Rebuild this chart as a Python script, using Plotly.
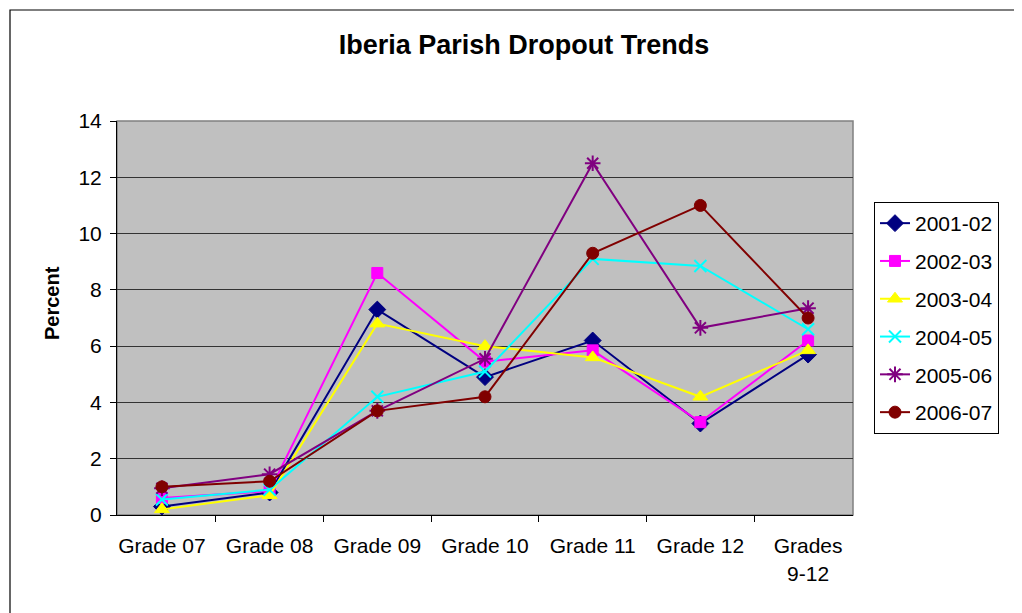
import plotly.graph_objects as go

categories = ["Grade 07", "Grade 08", "Grade 09", "Grade 10", "Grade 11", "Grade 12", "Grades<br>9-12"]
s2001_02 = [0.3, 0.8, 7.3, 4.9, 6.2, 3.25, 5.7]
s2002_03 = [0.6, 0.85, 8.6, 5.45, 5.85, 3.3, 6.2]
s2003_04 = [0.2, 0.7, 6.8, 6.0, 5.6, 4.2, 5.85]
s2004_05 = [0.55, 0.9, 4.2, 5.1, 9.1, 8.85, 6.6]
s2005_06 = [0.95, 1.45, 3.7, 5.55, 12.5, 6.65, 7.35]
s2006_07 = [1.0, 1.2, 3.7, 4.2, 9.3, 11.0, 7.0]

series = [
    ("2001-02", s2001_02, "#000080", "diamond", 13, 1),
    ("2002-03", s2002_03, "#FF00FF", "square", 11, 1),
    ("2003-04", s2003_04, "#FFFF00", "triangle-up", 13, 1),
    ("2004-05", s2004_05, "#00FFFF", "x-thin-open", 12, 2),
    ("2005-06", s2005_06, "#800080", "asterisk-open", 13, 2),
    ("2006-07", s2006_07, "#800000", "circle", 12, 1),
]

FONT = "Liberation Sans, Arial, sans-serif"
fig = go.Figure()
for i, (name, vals, color, sym, size, lw) in enumerate(series):
    fig.add_trace(go.Scatter(
        x=categories, y=vals, name=name, mode="lines+markers",
        line=dict(color=color, width=2),
        marker=dict(symbol=sym, size=size, color=color, line=dict(color=color, width=lw)),
        legendgroup=name,
    ))

# page is offset by the 8px body margin
OFF = 8
W, H = 1022 - OFF, 613 - OFF
L, R, T, B = 117 - OFF, 853 - OFF, 121 - OFF, 515 - OFF
pw, ph = R - L, B - T

fig.update_layout(
    width=W, height=H,
    margin=dict(l=L, r=W - R, t=T, b=H - B, autoexpand=False),
    paper_bgcolor="white", plot_bgcolor="#C0C0C0",
    font=dict(family=FONT, size=21, color="black"),
    title=dict(text="<b>Iberia Parish Dropout Trends</b>", x=(524 - OFF) / W, xanchor="center",
               y=1 - (45 - OFF) / H, yanchor="middle", font=dict(size=27, family=FONT)),
    showlegend=True,
    legend=dict(x=(874 - 117) / pw, xanchor="left", y=(515 - 202) / ph, yanchor="top",
                bordercolor="black", borderwidth=1, bgcolor="white",
                font=dict(size=21, family=FONT), traceorder="grouped", tracegroupgap=7.5),
    xaxis=dict(type="category", tickson="boundaries", ticks="outside", ticklen=6,
               tickcolor="black", showgrid=False, showline=True, linecolor="black",
               linewidth=1, zeroline=False, tickfont=dict(size=21), ticklabelstandoff=12),
    yaxis=dict(range=[0, 14], dtick=2, ticks="outside", ticklen=6, tickcolor="black",
               showgrid=True, gridcolor="#333333", gridwidth=1, showline=True,
               linecolor="black", linewidth=1, zeroline=False, tickfont=dict(size=21),
               ticklabelstandoff=4),
)

fig.add_shape(type="rect", xref="paper", yref="paper", x0=0, y0=0, x1=1, y1=1,
              line=dict(color="#808080", width=1.5), layer="below")
fig.add_shape(type="rect", xref="paper", yref="paper",
              x0=(10 - 117) / pw, y0=-0.6, x1=1.6, y1=(515 - 10) / ph,
              line=dict(color="black", width=1.2), layer="below")
fig.add_annotation(text="<b>Percent</b>", xref="paper", yref="paper",
                   x=(52 - 117) / pw, y=(515 - 303) / ph, textangle=-90, showarrow=False,
                   font=dict(size=20, family=FONT), xanchor="center", yanchor="middle")

fig.write_html("out.html")
